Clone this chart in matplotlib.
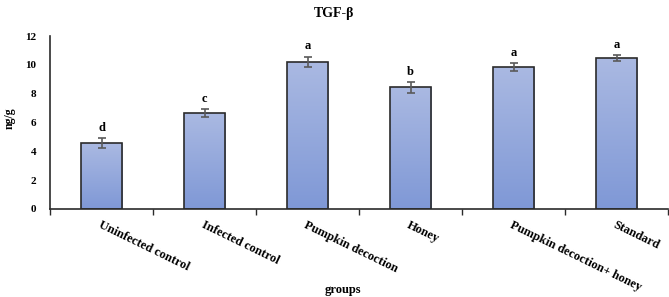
import matplotlib.pyplot as plt
import numpy as np
from matplotlib.colors import LinearSegmentedColormap

plt.rcParams['font.family'] = ['Liberation Serif', 'DejaVu Serif']
plt.rcParams['font.weight'] = 'bold'

groups = ["Uninfected control", "Infected control", "Pumpkin decoction",
          "Honey", "Pumpkin decoction+ honey", "Standard"]
means = [4.55, 6.65, 10.2, 8.45, 9.85, 10.45]
errs = [0.35, 0.28, 0.37, 0.38, 0.28, 0.2]
letters = ["d", "c", "a", "b", "a", "a"]
yticks = [0, 2, 4, 6, 8, 10, 12]

fig = plt.figure(figsize=(6.69, 2.97), dpi=100)
ax = fig.add_axes([50/669, 1-209/297, 618/669, (209-36)/297])

x = np.arange(len(groups))
bars = ax.bar(x, means, width=0.4, color='none', edgecolor='#2b2b2b',
              linewidth=1.2, zorder=3)

# gradient fill inside each bar
cmap = LinearSegmentedColormap.from_list('grad', ['#7f98d6', '#aab9e2'])
grad = np.linspace(0, 1, 256).reshape(-1, 1)
for b in bars:
    x0, y0 = b.get_x(), b.get_y()
    w, h = b.get_width(), b.get_height()
    im = ax.imshow(grad, cmap=cmap, origin='lower', aspect='auto',
                   extent=[x0, x0 + w, y0, y0 + h], zorder=2)
    im.set_clip_path(b)

ax.errorbar(x, means, yerr=errs, fmt='none', ecolor='#5a5a5a',
            elinewidth=1.2, capsize=3, capthick=1.2, zorder=4)

for xi, m, e, l in zip(x, means, errs, letters):
    ax.annotate(l, (xi, m + e), xytext=(0, 3), textcoords='offset points',
                ha='center', va='bottom', fontsize=9, fontweight='bold')

ax.set_xlim(-0.5, len(groups) - 0.5)
ax.set_ylim(0, 12)
ax.set_yticks(yticks)
ax.set_yticklabels([str(v) for v in yticks], fontsize=8, fontweight='bold')
ax.tick_params(axis='y', length=0, pad=10)

ax.set_xticks(x)
ax.set_xticklabels(groups, rotation=-26, ha='left', va='top',
                   rotation_mode='anchor', fontsize=9, fontweight='bold')
ax.tick_params(axis='x', length=0, pad=7)
ax.set_xticks(np.arange(-0.5, len(groups)), minor=True)
ax.tick_params(axis='x', which='minor', length=4, width=1, color='#2b2b2b')

for s in ['top', 'right']:
    ax.spines[s].set_visible(False)
for s in ['left', 'bottom']:
    ax.spines[s].set_color('#2b2b2b')
    ax.spines[s].set_linewidth(1.2)

fig.text(0.5, 0.955, "TGF-β", ha='center', va='center', fontsize=10,
         fontweight='bold')
fig.text(0.015, 1 - 118/297, "ng/g", rotation=90, ha='center', va='center',
         fontsize=8.5, fontweight='bold')
fig.text(343/669, 1 - 290/297, "groups", ha='center', va='center',
         fontsize=9, fontweight='bold')

fig.savefig("out.png", dpi=100)
